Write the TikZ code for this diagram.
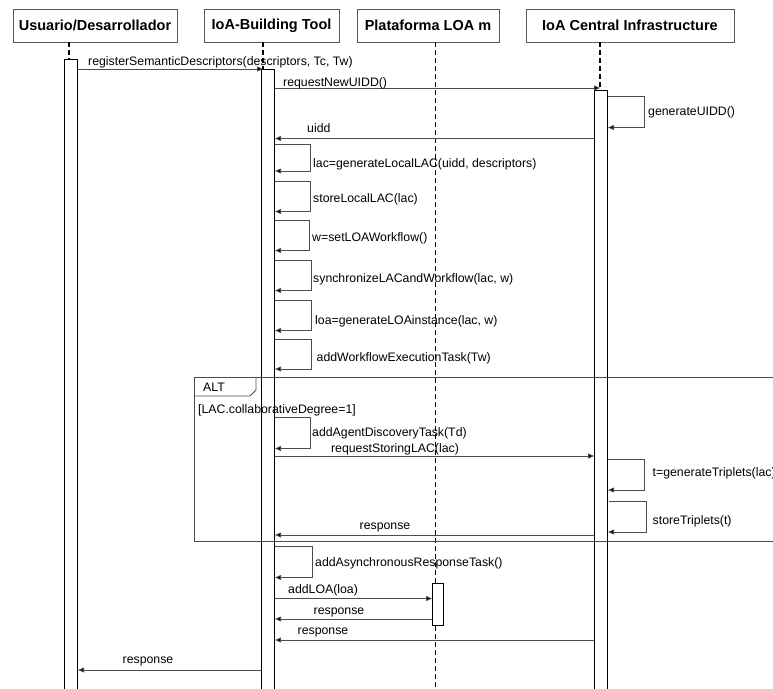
\documentclass[tikz,border=0pt]{standalone}
\usepackage{fontspec}
\setmainfont{Liberation Sans}
\usetikzlibrary{arrows.meta}
\begin{document}
\begin{tikzpicture}[x=1pt,y=-1pt,
  font=\fontsize{12.3}{14}\selectfont,
  header/.style={draw=black!65, line width=0.9pt, fill=white, inner sep=0pt,
    font=\fontsize{14.5}{16}\selectfont\bfseries},
  actbar/.style={draw=black, line width=1.1pt, fill=white, inner sep=0pt, anchor=north west},
  lifeline/.style={draw=black, line width=1.1pt, dash pattern=on 5pt off 3pt},
  msg/.style={draw=black!70, line width=0.8pt,
    -{Triangle[length=6pt,width=5pt,fill=black]}},
  lbl/.style={inner sep=0pt, anchor=base west},
  clbl/.style={inner sep=0pt, anchor=base},
  frame/.style={draw=black!70, line width=0.8pt}
]
\useasboundingbox (0,0) rectangle (773,688);

% participants
\node[header, minimum width=164pt, minimum height=33pt] (h1) at (95,25.5) {Usuario/Desarrollador};
\node[header, minimum width=135pt, minimum height=33pt] (h2) at (271.5,25.5) {IoA-Building Tool};
\node[header, minimum width=142pt, minimum height=33pt] (h3) at (428,25.5) {Plataforma LOA m};
\node[header, minimum width=208pt, minimum height=33pt] (h4) at (630,25.5) {IoA Central Infrastructure};

% lifeline positions
\coordinate (x1) at (69,0);
\coordinate (x2) at (263,0);
\coordinate (x3) at (435.5,0);
\coordinate (x4) at (600,0);
\coordinate (end3) at (435.5,695);

% activation bars
\node[actbar, minimum width=13pt, minimum height=640pt] (a1) at (64,59) {};
\node[actbar, minimum width=13pt, minimum height=630pt] (a2) at (261,69) {};
\node[actbar, minimum width=13pt, minimum height=610pt] (a4) at (594,90) {};

\draw[lifeline] (x1 |- h1.south) -- (x1 |- a1.north);
\draw[lifeline] (x2 |- h2.south) -- (x2 |- a2.north);
\draw[lifeline] (x4 |- h4.south) -- (x4 |- a4.north);
\draw[lifeline] (x3 |- h3.south) -- (end3);

\node[actbar, minimum width=11pt, minimum height=42pt] (a3) at (432,583) {};

% messages
\draw[msg] (a1.east |- 0,69) -- (x2 |- 0,69);
\node[lbl] (m1) at (88,65.5) {registerSemanticDescriptors(descriptors, Tc, Tw)};

\draw[msg] (a2.east |- 0,88) -- (x4 |- 0,88);
\node[lbl] (m2) at (283,86) {requestNewUIDD()};

\draw[msg] (a4.east |- 0,96.5) -| (644,127.5) -- (a4.east |- 0,127.5);
\node[lbl] (m3) at (648,115) {generateUIDD()};

\draw[msg] (a4.west |- 0,138.5) -- (a2.east |- 0,138.5);
\node[lbl] (m4) at (307,132.5) {uidd};

\draw[msg] (a2.east |- 0,144.5) -| (310,171) -- (a2.east |- 0,171);
\node[lbl] (m5) at (313,167) {lac=generateLocalLAC(uidd, descriptors)};

\draw[msg] (a2.east |- 0,181) -| (310,211.5) -- (a2.east |- 0,211.5);
\node[lbl] (m6) at (313,202.5) {storeLocalLAC(lac)};

\draw[msg] (a2.east |- 0,220.5) -| (309,250.5) -- (a2.east |- 0,250.5);
\node[lbl] (m7) at (312,241.5) {w=setLOAWorkflow()};

\draw[msg] (a2.east |- 0,260) -| (311,290.5) -- (a2.east |- 0,290.5);
\node[lbl] (m8) at (313,282.5) {synchronizeLACandWorkflow(lac, w)};

\draw[msg] (a2.east |- 0,300) -| (311,330.5) -- (a2.east |- 0,330.5);
\node[lbl] (m9) at (315,324.5) {loa=generateLOAinstance(lac, w)};

\draw[msg] (a2.east |- 0,339) -| (311,369) -- (a2.east |- 0,369);
\node[lbl] (m10) at (316.5,361) {addWorkflowExecutionTask(Tw)};

% alternative fragment
\draw[frame] (194,377) rectangle (800,541);
\draw[frame] (194,396) -- (250,396) -- (256,390) -- (256,377);
\node[lbl] (alt) at (203,391.5) {ALT};
\node[lbl] (guard) at (198,413.5) {[LAC.collaborativeDegree=1]};

\draw[msg] (a2.east |- 0,417.5) -| (310,448.5) -- (a2.east |- 0,448.5);
\node[lbl] (m11) at (312,436.5) {addAgentDiscoveryTask(Td)};

\draw[msg] (a2.east |- 0,456) -- (a4.west |- 0,456);
\node[clbl] (m12) at (395,452.5) {requestStoringLAC(lac)};

\draw[msg] (a4.east |- 0,459) -| (644.5,490) -- (a4.east |- 0,490);
\node[lbl] (m13) at (652.5,476) {t=generateTriplets(lac)};

\draw[msg] (609,501.5) -| (646,532) -- (a4.east |- 0,532);
\node[lbl] (m14) at (652.5,524.5) {storeTriplets(t)};

\draw[msg] (a4.west |- 0,535) -- (a2.east |- 0,535);
\node[clbl] (m15) at (385,529.5) {response};

% after the fragment
\draw[msg] (a2.east |- 0,546) -| (312,577.5) -- (a2.east |- 0,577.5);
\node[lbl] (m16) at (315,566) {addAsynchronousResponseTask()};

\draw[msg] (a2.east |- 0,598.5) -- (a3.west |- 0,598.5);
\node[lbl] (m17) at (288,593.5) {addLOA(loa)};

\draw[msg] (a3.west |- 0,619) -- (a2.east |- 0,619);
\node[clbl] (m18) at (339,614.5) {response};

\draw[msg] (a4.west |- 0,640) -- (a2.east |- 0,640);
\node[clbl] (m19) at (323,634.5) {response};

\draw[msg] (a2.west |- 0,670) -- (a1.east |- 0,670);
\node[clbl] (m20) at (148,663.5) {response};
\end{tikzpicture}
\end{document}
